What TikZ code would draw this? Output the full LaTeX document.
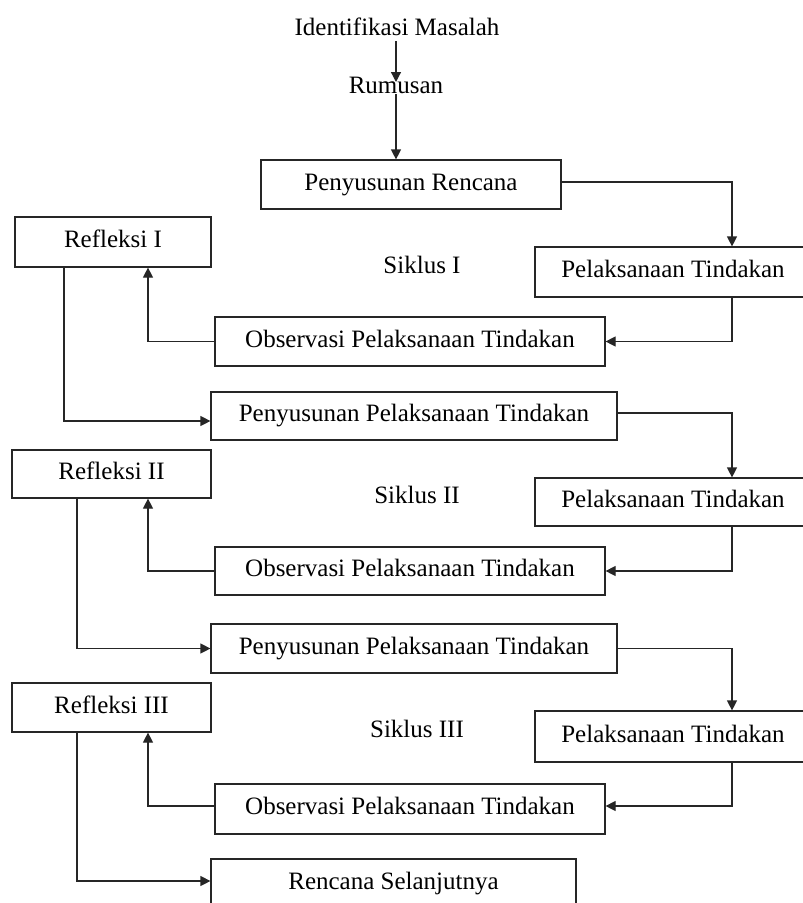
\documentclass[tikz,border=0pt]{standalone}
\usepackage{fontspec}
\setmainfont{Liberation Serif}
\usetikzlibrary{arrows.meta}
\begin{document}
\begin{tikzpicture}[x=1pt,y=-1pt,
  box/.style={draw=black!85, line width=1.2pt, rectangle, inner sep=0pt,
    font=\fontsize{25}{30}\selectfont, text height=16pt, text depth=5pt},
  lbl/.style={font=\fontsize{25}{30}\selectfont, inner sep=0pt, text height=16pt, text depth=5pt},
  arr/.style={draw=black!85, line width=1.2pt, -{Triangle[length=10pt,width=10pt]}},
  ln/.style={draw=black!85, line width=1.2pt}]
\useasboundingbox (0,0) rectangle (803,903);
\fill[white] (0,0) rectangle (803,903);
\clip (0,0) rectangle (803,903);

% top
\node[lbl] (Id) at (397,30) {Identifikasi Masalah};
\node[lbl] (Rum) at (396,88) {Rumusan};
\node[box, minimum width=300pt, minimum height=49pt] (PR) at (411,184.5) {Penyusunan Rencana};

% cycle I
\node[box, minimum width=276pt, minimum height=50pt] (P1) at (673,272) {Pelaksanaan Tindakan};
\node[box, minimum width=390pt, minimum height=49pt] (O1) at (410,341.5) {Observasi Pelaksanaan Tindakan};
\node[box, minimum width=196pt, minimum height=50pt] (R1) at (113,242) {Refleksi I};
\node[lbl] (S1) at (422,268) {Siklus I};
\node[box, minimum width=406pt, minimum height=48pt] (PP1) at (414,416) {Penyusunan Pelaksanaan Tindakan};

% cycle II
\node[box, minimum width=276pt, minimum height=48pt] (P2) at (673,502) {Pelaksanaan Tindakan};
\node[box, minimum width=390pt, minimum height=48pt] (O2) at (410,571) {Observasi Pelaksanaan Tindakan};
\node[box, minimum width=199pt, minimum height=48pt] (R2) at (111.5,474) {Refleksi II};
\node[lbl] (S2) at (417,498) {Siklus II};
\node[box, minimum width=406pt, minimum height=49pt] (PP2) at (414,648.5) {Penyusunan Pelaksanaan Tindakan};

% cycle III
\node[box, minimum width=276pt, minimum height=51pt] (P3) at (673,736.5) {Pelaksanaan Tindakan};
\node[box, minimum width=390pt, minimum height=50pt] (O3) at (410,809) {Observasi Pelaksanaan Tindakan};
\node[box, minimum width=199pt, minimum height=49pt] (R3) at (111.5,707.5) {Refleksi III};
\node[lbl] (S3) at (417,732) {Siklus III};
\node[box, minimum width=365pt, minimum height=50pt] (RS) at (393.5,884) {Rencana Selanjutnya};

% connectors top
\draw[arr] ([xshift=-1pt,yshift=-11pt]Id.center) -- ([yshift=6pt]Rum.center);
\draw[arr] ([yshift=-6pt]Rum.center) -- (Rum |- PR.north);
\draw[arr] ([yshift=2.5pt]PR.east) -| ([xshift=59pt]P1.north);

% cycle I connectors
\draw[arr] ([xshift=59pt]P1.south) |- (O1.east);
\draw[arr] (O1.west) -| ([xshift=35pt]R1.south);
\draw[arr] ([xshift=-49pt]R1.south) |- ([yshift=-5pt]PP1.west);

% cycle II connectors
\draw[arr] ([yshift=3pt]PP1.east) -| ([xshift=59pt]P2.north);
\draw[arr] ([xshift=59pt]P2.south) |- (O2.east);
\draw[arr] (O2.west) -| ([xshift=36.5pt]R2.south);
\draw[arr] ([xshift=-34.5pt]R2.south) |- (PP2.west);

% cycle III connectors
\draw[arr] (PP2.east) -| ([xshift=59pt]P3.north);
\draw[arr] ([xshift=59pt,yshift=0pt]P3.south) |- ([yshift=3pt]O3.east);
\draw[arr] ([yshift=3pt]O3.west) -| ([xshift=36.5pt]R3.south);
\draw[arr] ([xshift=-34.5pt]R3.south) |- ([yshift=3pt]RS.west);
\end{tikzpicture}
\end{document}
